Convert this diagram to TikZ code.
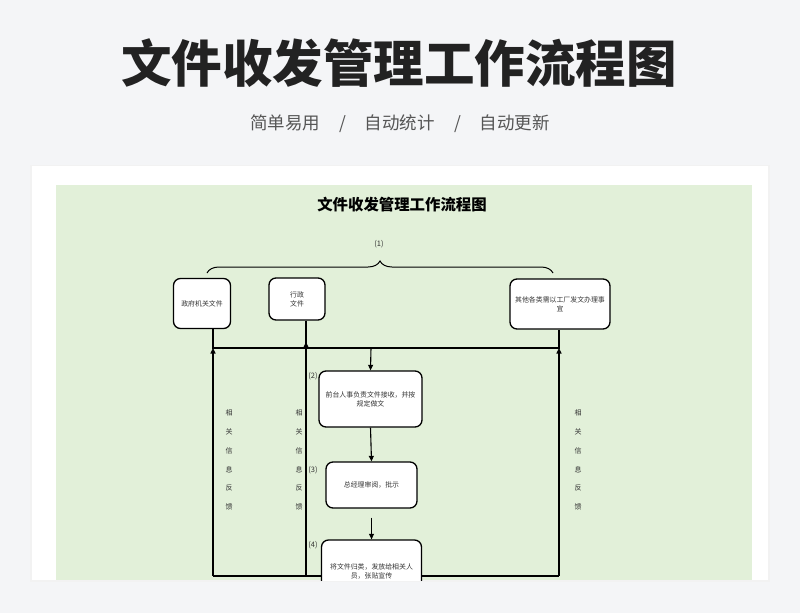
\documentclass[tikz,border=0pt]{standalone}
\usepackage{fontspec}
\newfontfamily\cjk{Noto Sans CJK SC}
\usetikzlibrary{arrows.meta,decorations.pathreplacing}
\definecolor{pagegray}{HTML}{F4F5F7}
\definecolor{panelgreen}{HTML}{E2F0D9}
\definecolor{titleink}{HTML}{222222}
\definecolor{subink}{HTML}{555555}
\definecolor{boxink}{HTML}{333333}
\tikzset{
  bx/.style={draw=black, line width=1.3pt, fill=white, rounded corners=7pt, align=center, font=\cjk\fontsize{6.9}{9}\selectfont, text=boxink, inner sep=2pt},
  ln/.style={draw=black, line width=1.1pt},
  arr/.style={ln, -{Triangle[length=5.5pt,width=5pt]}},
  num/.style={font=\cjk\fontsize{7.5}{9}\selectfont, text=boxink},
  fb/.style={font=\cjk\fontsize{7}{18.8}\selectfont, align=center, text=boxink},
}
\begin{document}
\begin{tikzpicture}[x=1pt, y=-1pt]
    \useasboundingbox (0,0) rectangle (800,613);
    \fill[pagegray] (0,0) rectangle (800,613);
    \node[font=\cjk\bfseries\fontsize{50.5}{50}\selectfont, text=titleink] (mainttl) at (399,63) {文件收发管理工作流程图};
    \node[font=\cjk\fontsize{17.5}{20}\selectfont, text=subink] (subttl) at (400,124) {简单易用\hspace{19pt}/\hspace{19pt}自动统计\hspace{19pt}/\hspace{19pt}自动更新};
    \fill[black!5] (30,165) rectangle (770,582);
    \fill[white] (32,166) rectangle (768,580);
    \fill[panelgreen] (56,185) rectangle (752,580);
    \begin{scope}
    \clip (56,185) rectangle (752,580);
    \node[font=\cjk\bfseries\fontsize{15.4}{18}\selectfont, text=black] (panelttl) at (402,205) {文件收发管理工作流程图};
    % step (1): the three kinds of incoming files
    \coordinate (brL) at (207,273);
    \coordinate (brR) at (553,273);
    \draw[line width=1pt, decorate, decoration={brace, amplitude=12pt}] (brL) -- (brR);
    \node[num] (n1) at (379,244) {(1)};
    \node[bx, minimum width=57pt, minimum height=50pt] (gov) at (202,303.5) {政府机关文件};
    \node[bx, minimum width=56pt, minimum height=42pt] (adm) at (297,299) {行政\\文件};
    \node[bx, minimum width=100pt, minimum height=50pt] (oth) at (560,304) {其他各类需以工厂发文办理事\\宜};
    % steps (2)-(4)
    \node[bx, minimum width=103pt, minimum height=56pt] (rcv) at (370.5,399) {前台人事负责文件接收，并按\\规定做文};
    \node[bx, minimum width=91pt, minimum height=46pt] (rvw) at (371.5,485) {总经理审阅，批示};
    \node[num] (n2) at (313,376) {(2)};
    \node[num] (n3) at (313,470) {(3)};
    \node[num] (n4) at (313,545) {(4)};
    % collecting bus and feedback lines
    \coordinate (busL) at (213,348);
    \coordinate (busM) at (306,342);
    \coordinate (busC) at (371,348);
    \coordinate (busR) at (559,348);
    \coordinate (botL) at (213,576);
    \coordinate (botM) at (306,576);
    \coordinate (botR) at (559,576);
    \draw[ln] (gov.south -| busL) -- (busL) -- (busR) -- (oth.south -| busR);
    \draw[ln] (adm.south -| busM) -- (botM);
    \draw[ln] (botL) -- (botR);
    \draw[arr] (botL) -- (busL);
    \draw[arr] (botM) -- (busM);
    \draw[arr] (botR) -- (busR);
    \draw[arr] (busC) -- (rcv.north);
    \draw[arr] (rcv.south) -- (rvw.north);
    \node[bx, minimum width=100pt, minimum height=62pt] (dst) at (371.5,571) {将文件归类，发放给相关人\\员，张贴宣传};
    \draw[arr, shorten <=9pt] (rvw.south) -- (dst.north);
    \node[fb] (fbL) at (229,460) {相\\关\\信\\息\\反\\馈};
    \node[fb] (fbM) at (299,460) {相\\关\\信\\息\\反\\馈};
    \node[fb] (fbR) at (578,460) {相\\关\\信\\息\\反\\馈};
    \end{scope}
  \end{tikzpicture}
\end{document}
